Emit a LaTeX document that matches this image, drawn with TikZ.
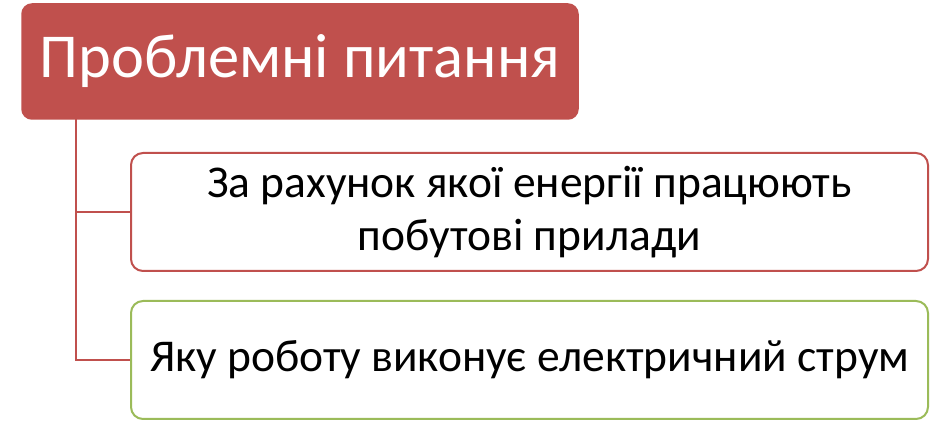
\documentclass[tikz,border=0pt]{standalone}
\usepackage{fontspec}
\setmainfont{Carlito}
\definecolor{red1}{HTML}{C0504D}
\definecolor{green1}{HTML}{9BBB59}
\begin{document}
\begin{tikzpicture}[x=1pt,y=1pt,
  title/.style={draw=red1,fill=red1,rounded corners=10pt,line width=1.5pt,text=white,font=\fontsize{62.5}{70}\selectfont,inner sep=0pt},
  item/.style={fill=white,rounded corners=12pt,line width=2pt,text=black,font=\fontsize{45.5}{53}\selectfont,align=center,inner sep=0pt},
  conn/.style={draw=red1,line width=2.5pt}]
\useasboundingbox (0,0) rectangle (940,422);
\node[title,minimum width=556pt,minimum height=115pt] (t) at (300,360.5) {Проблемні питання};
\node[item,draw=red1,minimum width=797pt,minimum height=118pt] (a) at (529.5,210) {За рахунок якої енергії працюють\\побутові прилади};
\node[item,draw=green1,minimum width=797pt,minimum height=118pt] (b) at (529.5,62) {Яку роботу виконує електричний струм};
\coordinate (top) at (76,303);
\draw[conn] (top) |- (a.west);
\draw[conn] (top) |- (b.west);
\end{tikzpicture}
\end{document}
